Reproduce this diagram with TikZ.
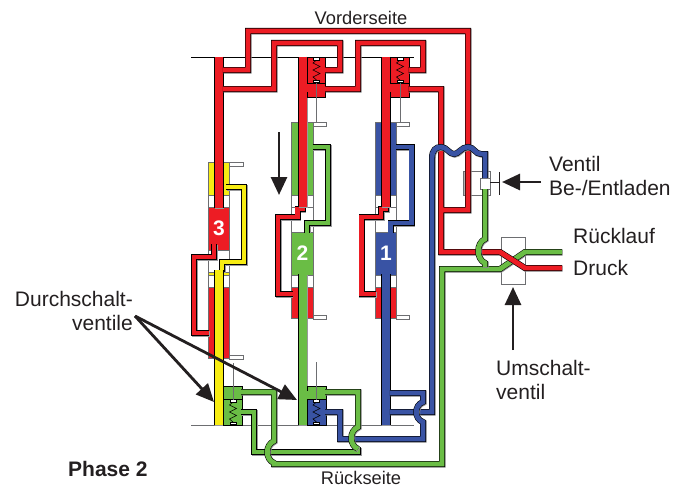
\documentclass[tikz,border=0pt]{standalone}
\usepackage{fontspec}
\setmainfont{Liberation Sans}
\usepackage{tikz}
\usetikzlibrary{arrows.meta,positioning}

\definecolor{pipered}{HTML}{ED1C24}
\definecolor{pipegreen}{HTML}{6ABD45}
\definecolor{pipeblue}{HTML}{3953A4}
\definecolor{pipeyellow}{HTML}{F7EC13}
\definecolor{inkdark}{HTML}{231F20}
\definecolor{wallgray}{HTML}{6D6E71}

\tikzset{spring/.pic={
  \draw[line width=.6pt,black] (0,0)--(-3.5,3)--(3.5,6.5)--(-3.5,10)--(3.5,13.5)--(-3.5,17)--(0,20);
  \draw[line width=.6pt,black,fill=white] (-2.8,-2.5) rectangle (2.8,0);
  \draw[line width=.6pt,black,fill=white] (-2.8,20) rectangle (2.8,22.5);
}}

\newcommand{\spoolcolumn}[3]{
  \begin{scope}[shift={(#1,0)}]
    \draw[wall,fill=#2] (-10.8,122) rectangle (10.8,195);
    \draw[wall,fill=white] (-10.8,195) rectangle (10.8,207);
    \draw[wall] (-10.8,207)--(-10.8,232) (10.8,207)--(10.8,232);
    \draw[wall,fill=#2] (-10.8,232) rectangle (10.8,275);
    \draw[wall,fill=white] (-10.8,275) rectangle (10.8,287);
    \draw[wall,fill=pipered] (-10.8,287) rectangle (10.8,318);
    \draw[tab] (10.8,122) rectangle (23.5,126);
    \draw[tab] (10.8,315.5) rectangle (23.5,319);
    \draw[pipe=#2] (10,147)--(25.5,147)--(25.5,223)--(4.5,223)--(4.5,232.5);
    \draw[pipe=pipered] (0,200)--(0,209)--(-5,209)--(-5,217)--(-24.5,217)--(-24.5,294)--(-10,294);
    \draw[mainpipe=pipered] (0,57)--(0,207);
    \draw[mainpipe=#2] (0,274)--(0,425);
    \node (block#3) [blocklabel] at (0,253.5) {#3};
  \end{scope}
}

\newcommand{\topvalve}[1]{
  \begin{scope}[shift={(#1,0)}]
    \draw[thin,black,fill=pipered] (4.6,57) rectangle (23,97);
    \fill[pipered] (2,84) rectangle (7,91.5);
    \draw[thin,black] (4.6,83)--(23,83);
    \pic at (14,60) {spring};
    \draw[rod] (14,82.5)--(14,122);
  \end{scope}
}

\begin{document}
\begin{tikzpicture}[x=1pt,y=-1pt,thin]
\tikzstyle{wall}=[draw=wallgray,line width=.9pt]
\tikzstyle{tab}=[draw=wallgray,line width=.8pt,fill=white]
\tikzstyle{rod}=[draw=wallgray,line width=.9pt]
\tikzstyle{pipe}=[draw=#1,line width=4.9pt,preaction={draw=wallgray!70,line width=6pt,transform canvas={xshift=.7pt,yshift=-.7pt}},preaction={draw=black,line width=6pt}]
\tikzstyle{mainpipe}=[draw=#1,line width=8pt,preaction={draw=wallgray!70,line width=9.2pt,transform canvas={xshift=.7pt,yshift=-.7pt}},preaction={draw=black,line width=9.2pt}]
\tikzstyle{leader}=[-{Stealth[length=18pt,width=16pt,inset=0pt]},line width=2.8pt,draw=inkdark]
\tikzstyle{blocklabel}=[text=white,font=\fontsize{21}{21}\selectfont\bfseries,inner sep=0pt]
\tikzstyle{sidelabel}=[text=inkdark,font=\fontsize{18.3}{22}\selectfont,inner sep=0pt,anchor=base]
\tikzstyle{partlabel}=[text=inkdark,font=\fontsize{21}{24}\selectfont,inner sep=0pt]

\useasboundingbox (0,0) rectangle (682,487);

\draw[line width=.9pt,black] (191,57)--(414,57);
\draw[line width=.9pt,wallgray] (191,425)--(414,425);

\draw[wall,fill=pipeyellow] (208.2,162) rectangle (229.8,195);
\draw[wall,fill=white] (208.2,195) rectangle (229.8,207);
\draw[wall,fill=pipered] (208.2,207) rectangle (229.8,250);
\draw[wall] (208.2,250)--(208.2,272) (229.8,250)--(229.8,272);
\draw[wall,fill=pipeyellow] (208.2,272) rectangle (229.8,275);
\draw[wall,fill=white] (208.2,275) rectangle (229.8,287);
\draw[wall,fill=pipered] (208.2,287) rectangle (229.8,358);
\draw[tab] (229.8,162) rectangle (243,166);
\draw[tab] (229.8,355.5) rectangle (243,359);
\draw[pipe=pipered] (214,244)--(214,257)--(194,257)--(194,333)--(209,333);
\draw[pipe=pipeyellow] (226,187)--(244,187)--(244,262)--(222,262)--(222,272);
\draw[mainpipe=pipered] (219,57)--(219,208);
\draw[mainpipe=pipeyellow] (219,270)--(219,425);
\node (block3) [blocklabel] at (219,228.5) {3};

\spoolcolumn{302.5}{pipegreen}{2}
\spoolcolumn{386}{pipeblue}{1}
\topvalve{302.5}
\topvalve{386}

\draw[wall,fill=white] (463,171) rectangle (490,195);
\draw[wall,fill=gray!60] (463,171) rectangle (467,195);
\draw[wall,fill=white] (480,178) rectangle (490,189);
\draw[wall,fill=white] (501,237) rectangle (525.5,284);
\draw[thin,inkdark] (490,182)--(499,182) (499,172)--(499,195);

\draw[thin,black,fill=pipegreen] (223.6,386) rectangle (242,425);
\draw[thin,black] (223.6,399)--(242,399);
\pic at (233,402) {spring};
\draw[rod] (233,363)--(233,399.5);

\draw[thin,black,fill=pipegreen] (307,386) rectangle (326,399);
\draw[thin,black,fill=pipeblue] (307,399) rectangle (326,425);
\fill[pipegreen] (304.5,391) rectangle (309,398.5);
\pic at (316.5,402) {spring};
\draw[rod] (316.5,362)--(316.5,399.5);

\draw[pipe=pipegreen] (241,412)--(254,412)--(254,452)--(358,452)--(358,447);
\draw[pipe=pipegreen] (241,392)--(274,392)--(274,441) .. controls (265,445) and (265,459) .. (274,463)--(274,464)--(442,464)--(442,269)--(500,269)--(525,252)--(562,252);

\draw[pipe=pipered] (222.9,70)--(248,70)--(248,31)--(468,31)--(468,210)--(441,210)
  (222.9,89)--(274,89)--(274,43)--(340,43)--(340,70)--(325,70)
  (325,89)--(358,89)--(358,43)--(423,43)--(423,70)--(408.5,70)
  (408.5,89)--(441,89)--(441,252)--(500,252)--(525,268)--(562,268);

\draw[pipe=pipeblue] (389.9,412)--(432,412)--(432,158) .. controls (432,150) and (436,147) .. (441,147) .. controls (447,147) and (449,154) .. (454,154) .. controls (459,154) and (461,147) .. (468,147) .. controls (474,147) and (475,154) .. (481,154)--(485,154)--(485,178);
\draw[pipe=pipeblue] (389.9,393)--(423,393)--(423,402) .. controls (414,405) and (414,419) .. (423,422)--(423,439)--(340,439)--(340,412)--(325,412);

\draw[pipe=pipegreen] (325,392)--(358,392)--(358,427) .. controls (349,431) and (349,445) .. (358,449);
\draw[pipe=pipegreen] (485,189)--(485,239) .. controls (476,243) and (476,259) .. (485,263)--(485,267.2);

\node (vorderseite) [sidelabel] at (361,25) {Vorderseite};
\node (rueckseite) [sidelabel] at (361,484) {Rückseite};
\node (phase) [partlabel,anchor=base west,font=\fontsize{21}{24}\selectfont\bfseries] at (68,476) {Phase 2};
\node (ventil) [partlabel,anchor=north west,align=left] at (549,155.8) {Ventil\\Be-/Entladen};
\node (ruecklauf) [partlabel,anchor=base west] at (573,243) {Rücklauf};
\node (druck) [partlabel,anchor=base west] at (573,275) {Druck};
\node (umschalt) [partlabel,anchor=north west,align=left] at (496,359.8) {Umschalt-\\ventil};
\node (durchschalt) [partlabel,anchor=north east,align=right] at (133,291) {Durchschalt-\\ventile};

\coordinate (ventfrom) at (541,182);
\coordinate (ventto) at (502,182);
\coordinate (umfrom) at (513,350);
\coordinate (umto) at (513,287);
\coordinate (gunfrom) at (135,316);
\coordinate (gunleft) at (214,402);
\coordinate (gunright) at (297,400);
\coordinate (arrowtop) at (279,132);
\coordinate (arrowbottom) at (279,195);

\draw[leader] (ventfrom)--(ventto);
\draw[leader] (umfrom)--(umto);
\draw[leader] (gunfrom)--(gunleft);
\draw[leader] (gunfrom)--(gunright);
\draw[leader] (arrowtop)--(arrowbottom);
\end{tikzpicture}
\end{document}
